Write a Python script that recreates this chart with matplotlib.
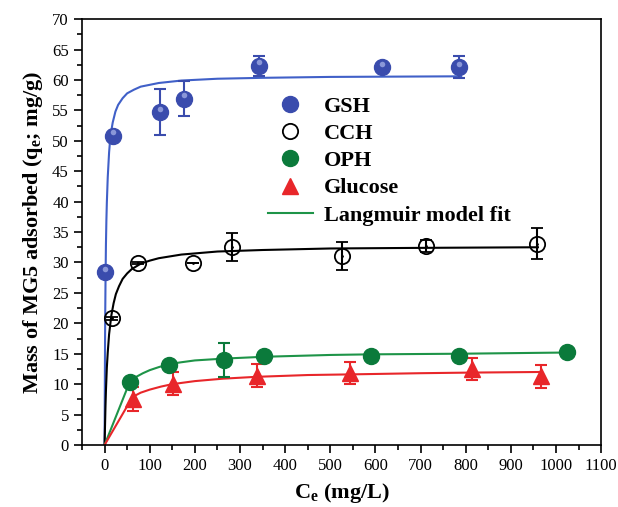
import matplotlib
matplotlib.use("Agg")
import matplotlib.pyplot as plt
from matplotlib.lines import Line2D

plt.rcParams['font.family'] = 'Liberation Serif'
plt.rcParams['mathtext.fontset'] = 'custom'
plt.rcParams['mathtext.rm'] = 'Liberation Serif'
plt.rcParams['mathtext.bf'] = 'Liberation Serif:bold'

# measured points (Ce, qe, error)
gsh_x = [0, 18, 122, 175, 341, 614, 785]
gsh_y = [28.4, 50.8, 54.7, 56.9, 62.3, 62.1, 62.1]
gsh_err = [0, 0, 3.8, 2.9, 1.7, 0, 1.8]

cch_x = [17, 73, 196, 282, 525, 711, 958]
cch_y = [20.8, 29.9, 29.9, 32.6, 31.0, 32.7, 33.1]
cch_err = [0.3, 0.2, 0, 2.3, 2.3, 1.0, 2.6]

oph_x = [57, 143, 264, 353, 590, 785, 1024]
oph_y = [10.3, 13.1, 14.0, 14.7, 14.6, 14.6, 15.3]
oph_err = [0, 0, 2.8, 0, 0, 0, 0]

glu_x = [62, 151, 337, 543, 813, 967]
glu_y = [7.6, 10.1, 11.4, 11.9, 12.5, 11.3]
glu_err = [2.0, 1.9, 1.9, 1.8, 1.8, 1.9]

# Langmuir fit curves
gsh_fit_x = [0, 0.5, 1, 1.5, 2, 3, 4, 5, 7, 10, 13, 18, 24, 30, 40, 50, 65, 80, 100, 120, 170, 250, 350, 500, 650, 790]
gsh_fit_y = [0, 9.0, 16.7, 22.0, 26.3, 32.9, 36.9, 39.8, 44.0, 48.1, 50.8, 53.0, 54.8, 55.9, 57.0, 57.8, 58.4, 58.9, 59.2, 59.5, 59.9, 60.2, 60.35, 60.5, 60.55, 60.6]

cch_fit_x = [0, 2, 3, 5, 7, 10, 15, 20, 25, 32, 40, 50, 60, 80, 100, 120, 170, 250, 350, 500, 700, 960]
cch_fit_y = [0, 6.4, 8.9, 12.7, 15.2, 18.2, 21.3, 23.3, 24.8, 26.1, 27.3, 28.2, 28.9, 29.8, 30.3, 30.7, 31.3, 31.8, 32.05, 32.3, 32.4, 32.5]

oph_fit_x = [0, 57, 70, 85, 100, 120, 143, 170, 200, 264, 353, 500, 590, 785, 1025]
oph_fit_y = [0, 10.6, 11.2, 11.8, 12.3, 12.8, 13.3, 13.6, 13.9, 14.2, 14.5, 14.8, 14.9, 15.0, 15.2]

glu_fit_x = [0, 62, 80, 100, 125, 150, 200, 262, 335, 450, 540, 700, 810, 965]
glu_fit_y = [0, 7.9, 8.6, 9.1, 9.6, 10.0, 10.5, 10.9, 11.2, 11.5, 11.6, 11.8, 11.9, 12.0]

blue = '#3a4cad'
green = '#0b7a3b'
red = '#e8262a'

fig = plt.figure(figsize=(6.18, 5.07), dpi=100)
ax = fig.add_axes([0.1327, 0.1223, 0.840, 0.840])

# fit lines
ax.plot(gsh_fit_x, gsh_fit_y, color='#4060c8', lw=1.5, zorder=2)
ax.plot(cch_fit_x, cch_fit_y, color='black', lw=1.5, zorder=2)
ax.plot(oph_fit_x, oph_fit_y, color='#1e9448', lw=1.5, zorder=2)
ax.plot(glu_fit_x, glu_fit_y, color=red, lw=1.5, zorder=2)

# data with error bars
ax.errorbar(gsh_x, gsh_y, yerr=gsh_err, fmt='o', ms=11.5, color=blue,
             mec=blue, ecolor=blue, elinewidth=1.5, capsize=4, capthick=1.5, zorder=4)
ax.plot(gsh_x, [v + 0.6 for v in gsh_y], 'o', ms=4, color='#8a97d8', mec='none', zorder=5)
ax.errorbar(cch_x, cch_y, yerr=cch_err, fmt='o', ms=11, mfc='none', mec='black',
             mew=1.3, ecolor='black', elinewidth=1.5, capsize=4, capthick=1.5, zorder=4)
ax.plot(cch_x, cch_y, '.', ms=2, color='black', zorder=5)
ax.errorbar(oph_x, oph_y, yerr=oph_err, fmt='o', ms=11.5, color=green,
             mec=green, ecolor=green, elinewidth=1.5, capsize=4, capthick=1.5, zorder=4)
ax.errorbar(glu_x, glu_y, yerr=glu_err, fmt='^', ms=12, color=red,
             mec=red, ecolor=red, elinewidth=1.5, capsize=4, capthick=1.5, zorder=4)

ax.set_xlim(-50, 1100)
ax.set_ylim(0, 70)
ax.set_xticks(range(0, 1101, 100))
ax.set_xticks(range(-50, 1101, 50), minor=True)
ax.set_yticks(range(0, 71, 5))
ax.set_yticks([v * 2.5 for v in range(29)], minor=True)
ax.tick_params(which='both', direction='out', top=False, right=False, labelsize=12, width=1.2)
ax.tick_params(which='major', length=6)
ax.tick_params(which='minor', length=3.5)
for s in ax.spines.values():
    s.set_linewidth(1.2)

ax.set_xlabel(r'C$_\mathbf{e}$ (mg/L)', fontsize=16, fontweight='bold', labelpad=5)
ax.set_ylabel(r'Mass of MG5 adsorbed (q$_\mathbf{e}$; mg/g)', fontsize=16, fontweight='bold', labelpad=5)

handles = [
    Line2D([], [], marker='o', ls='none', ms=11.5, color=blue),
    Line2D([], [], marker='o', ls='none', ms=11, mfc='none', mec='black', mew=1.3),
    Line2D([], [], marker='o', ls='none', ms=11.5, color=green),
    Line2D([], [], marker='^', ls='none', ms=12, color=red),
    Line2D([], [], color='#1e9448', lw=1.5),
]
labels = ['GSH', 'CCH', 'OPH', 'Glucose', 'Langmuir model fit']
ax.legend(handles, labels, loc='upper left', bbox_to_anchor=(0.32, 0.866), frameon=False,
          prop={'family': 'Liberation Serif', 'weight': 'bold', 'size': 16},
          handlelength=2.0, handletextpad=0.5, labelspacing=0.3)

fig.savefig('out.png', dpi=100)
